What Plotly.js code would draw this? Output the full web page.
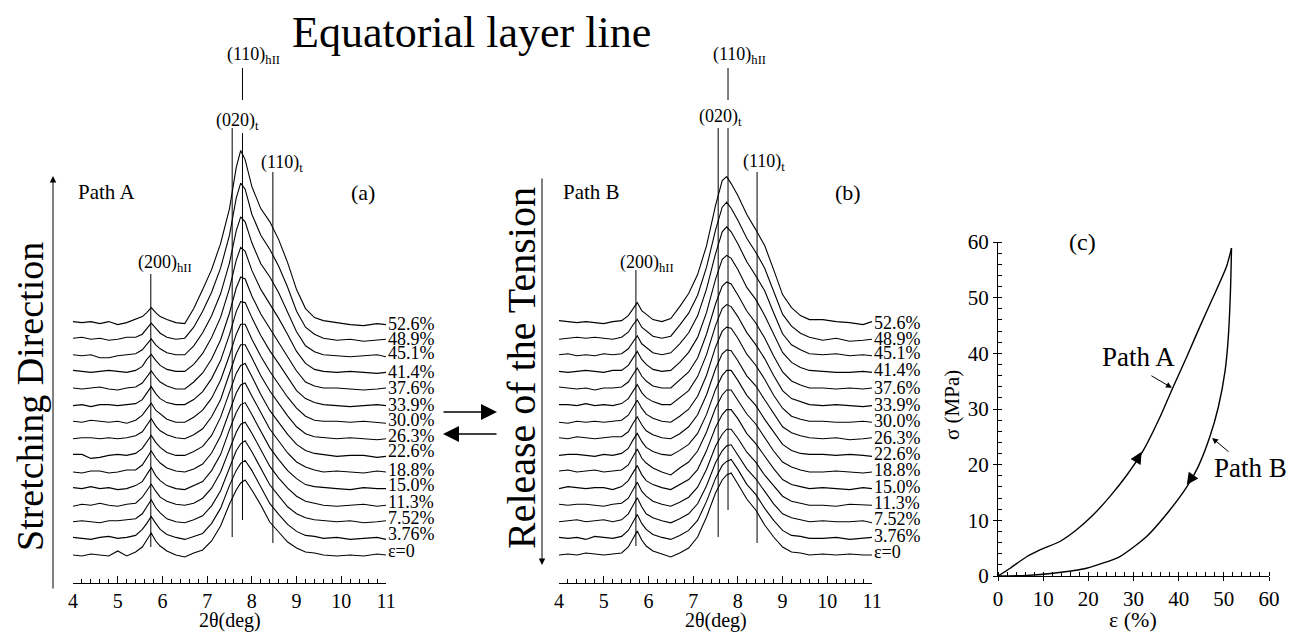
<!DOCTYPE html>
<html><head><meta charset="utf-8">
<script src="https://cdn.plot.ly/plotly-3.0.1.min.js"></script>
<style>body{margin:0;background:#fff}#chart{width:1291px;height:633px}</style>
</head><body><div id="chart"></div>
<script>
// ---------- DATA ----------
const twoTheta = [4.0,4.2,4.4,4.6,4.8,5.0,5.2,5.4,5.55,5.65,5.75,5.85,5.95,6.1,6.3,6.5,6.7,6.9,7.1,7.3,7.5,7.65,7.75,7.85,8.0,8.2,8.4,8.6,8.8,9.0,9.2,9.4,9.6,9.9,10.2,10.5,10.8,11.0];
const strainLabels = ['ε=0','3.76%','7.52%','11.3%','15.0%','18.8%','22.6%','26.3%','30.0%','33.9%','37.6%','41.4%','45.1%','48.9%','52.6%'];

// Path A (stretching) intensities, a.u., one array per strain
const pathA_0  = [0,-1,1,0,-1,4,-1, 3,8,15,22,14,9,4,0, -2,2,5,14,29,51,65,72,75,65,50,33,23,13,7,3,2,0, -1,0,-1,1,0];
const pathA_1  = [1,0,-1,1,2,0,1, 3,9,15,22,15,9,4,1, -1,2,5,15,30,53,68,75,78,68,51,35,24,14,7,3,2,0, 1,-1,0,1,-1];
const pathA_2  = [0,1,0,-1,1,1,2, 3,8,15,22,14,9,3,0, -1,2,6,16,31,55,71,78,81,70,53,37,26,15,8,4,2,1, 0,1,-1,0,1];
const pathA_3  = [-1,1,0,2,0,-1,1, 2,8,14,21,14,8,4,1, 0,2,7,17,33,57,73,81,83,72,55,39,27,17,9,4,2,0, -1,0,1,-1,0];
const pathA_4  = [1,0,2,0,1,-1,0, 3,7,14,21,13,8,3,0, -1,3,7,18,34,59,76,84,86,74,57,41,29,18,10,4,2,1, 0,-1,1,0,0];
const pathA_5  = [0,-1,1,1,-1,0,2, 2,7,14,21,14,9,4,1, 0,3,8,19,36,61,79,87,89,76,59,43,31,19,10,5,2,0, 1,0,-1,1,0];
const pathA_6  = [1,1,-3,-2,0,1,0, 2,7,14,20,13,8,3,0, 0,4,9,20,38,63,82,90,92,79,61,45,33,21,11,5,2,1, -1,0,0,-2,-1];
const pathA_7  = [0,1,1,0,1,0,1, 3,7,14,20,13,8,4,1, 0,4,10,22,39,65,85,94,94,81,63,48,35,23,12,5,2,1, 0,1,0,-1,0];
const pathA_8  = [1,0,2,1,0,1,-1, 2,7,13,19,12,8,3,0, 0,5,12,24,42,67,88,98,98,83,66,51,38,25,14,6,2,1, 1,0,1,0,-1];
const pathA_9  = [0,1,-1,1,1,0,1, 2,6,13,19,12,7,3,1, 1,6,14,27,45,71,94,104,103,88,70,55,42,29,15,7,3,1, 0,-1,0,1,0];
const pathA_10 = [1,0,1,2,0,-1,1, 2,6,12,18,12,7,3,0, 0,7,16,30,49,76,101,112,110,93,75,61,47,33,18,7,3,1, 1,0,-1,0,1];
const pathA_11 = [2,1,0,1,2,1,0, 2,6,13,18,12,7,3,1, 1,8,19,35,55,84,112,125,121,102,83,69,54,38,21,9,3,1, 0,1,0,-1,0];
const pathA_12 = [1,0,1,-2,-2,0,1, 2,6,12,17,11,7,3,1, 1,10,23,40,62,93,125,139,134,113,92,79,63,44,24,10,4,1, 0,-1,0,1,-1];
const pathA_13 = [1,2,0,1,-1,0,2, 2,5,11,16,11,6,2,0, 1,12,28,47,71,104,141,156,150,125,104,90,73,52,28,12,5,1, -1,0,-2,-1,0];
const pathA_14 = [1,0,1,-1,1,-2,0, 3,6,10,15,10,6,3,0, -1,14,33,53,79,114,155,172,163,136,114,101,83,60,33,14,5,2, 0,-2,-3,-1,-2];

// Path B (release) intensities
const pathB_0  = [0,1,0,2,1,0,1, 2,8,16,24,15,9,4,1, -2,2,7,18,38,62,75,80,82,71,56,45,30,18,8,3,2,0, 1,0,1,0,0];
const pathB_1  = [1,0,1,-1,2,1,0, 2,8,16,24,15,9,4,1, -1,3,8,18,37,60,73,77,79,69,54,44,30,18,8,3,2,0, 0,1,-1,0,1];
const pathB_2  = [0,1,2,0,1,2,0, 2,8,16,24,15,8,4,1, -1,3,8,18,36,59,71,76,77,67,53,43,30,18,8,4,2,0, 1,0,0,1,-1];
const pathB_3  = [1,0,1,1,0,-1,1, 2,7,15,23,14,9,4,1, -1,3,8,18,36,59,71,76,76,67,53,43,30,19,9,4,2,0, 0,-1,1,0,0];
const pathB_4  = [0,2,1,0,1,1,-1, 2,8,15,23,14,8,4,1, -1,4,9,19,38,61,74,79,79,70,55,45,32,20,9,4,2,0, 1,0,-1,1,0];
const pathB_5  = [1,2,0,1,2,0,1, 2,7,15,23,14,9,4,0, -3,4,10,21,40,64,77,82,82,72,58,48,34,21,10,5,2,0, 0,1,0,-1,0];
const pathB_6  = [0,1,1,0,-1,1,0, 2,7,15,22,14,8,4,1, 0,5,11,22,41,66,80,85,85,75,60,50,36,23,11,5,2,1, 1,0,1,0,-1];
const pathB_7  = [1,0,2,1,0,1,2, 2,7,15,22,14,8,4,1, 0,5,12,24,44,70,85,89,88,78,63,53,39,25,12,6,3,1, 0,1,-1,0,1];
const pathB_8  = [0,-1,1,0,1,0,1, 2,7,15,22,14,8,4,1, 0,6,13,26,47,75,91,95,94,84,68,57,43,27,14,6,3,1, 1,0,0,1,0];
const pathB_9  = [1,1,0,2,0,1,0, 2,7,14,21,13,8,4,1, 1,8,15,29,51,80,97,101,99,89,73,61,47,30,15,7,4,1, 0,1,0,-1,0];
const pathB_10 = [2,1,0,1,-1,1,1, 2,7,14,21,13,8,3,1, 1,9,17,31,55,85,103,107,105,94,78,66,51,33,17,8,4,1, 1,0,1,0,1];
const pathB_11 = [1,0,1,2,1,0,2, 2,7,14,21,13,8,3,1, 2,10,20,35,60,93,113,117,114,103,85,73,57,38,20,10,5,2, 1,0,0,1,0];
const pathB_12 = [1,2,0,1,0,2,1, 2,7,14,20,12,8,3,1, 3,12,23,40,67,102,124,129,124,112,94,80,65,43,22,11,6,2, 1,2,0,1,0];
const pathB_13 = [0,1,2,1,2,1,0, 2,7,14,20,12,8,3,1, 3,14,26,44,72,109,132,137,131,119,101,87,71,48,25,13,6,2, -1,1,-2,-1,0];
const pathB_14 = [2,1,0,1,0,-1,1, 2,7,14,20,12,8,3,1, 4,16,29,48,77,117,142,146,139,127,108,93,77,53,28,15,7,3, 3,1,0,-2,1];

// Reflections
const peakNames = ['(200)','(020)','(110)','(110)'];
const peakSubs  = ['hII','t','hII','t'];
const peakPosA  = [5.74, 7.56, 7.79, 8.47];
const peakPosB  = [5.72, 7.56, 7.78, 8.43];

// Stress-strain (c)
const strainPathA = [0,2.7,6.4,9.3,13.7,17.4,21.1,24.8,28.5,32.2,35.9,38.8,41.8,44.7,47.7,50.6,51.7];
const stressPathA = [0,1.4,3.5,4.7,6.2,8.3,11.0,14.3,18.1,22.6,28.6,34.0,39.4,44.8,50.2,55.6,58.9];
const strainPathB = [51.7,51.5,51.0,50.3,48.8,46.9,44.3,41.8,38.1,32.9,27.0,19.6,12.2,6.4,0];
const stressPathB = [58.9,52.0,43.0,37.0,30.4,25.0,19.6,16.0,11.9,7.1,3.5,1.4,0.5,0.1,0];

// ---------- BUILD ----------
const pathA = [pathA_0,pathA_1,pathA_2,pathA_3,pathA_4,pathA_5,pathA_6,pathA_7,pathA_8,pathA_9,pathA_10,pathA_11,pathA_12,pathA_13,pathA_14];
const pathB = [pathB_0,pathB_1,pathB_2,pathB_3,pathB_4,pathB_5,pathB_6,pathB_7,pathB_8,pathB_9,pathB_10,pathB_11,pathB_12,pathB_13,pathB_14];

const W = 1291, H = 633;
const PX = v => v / W, PY = v => (H - v) / H;
const STACK = 16.6;            // vertical offset between successive patterns
const FONT = 'Liberation Serif, Times New Roman, serif';
const BLACK = '#000';

const traces = [];
pathA.forEach((arr, i) => traces.push({
  type: 'scatter', mode: 'lines', x: twoTheta, y: arr.map(v => v + i * STACK),
  xaxis: 'x', yaxis: 'y', line: {color: BLACK, width: 1.1}, hoverinfo: 'skip', showlegend: false
}));
pathB.forEach((arr, i) => traces.push({
  type: 'scatter', mode: 'lines', x: twoTheta, y: arr.map(v => v + i * STACK),
  xaxis: 'x2', yaxis: 'y2', line: {color: BLACK, width: 1.1}, hoverinfo: 'skip', showlegend: false
}));
traces.push({type: 'scatter', mode: 'lines', x: strainPathA, y: stressPathA, xaxis: 'x3', yaxis: 'y3',
  line: {color: BLACK, width: 1.4, shape: 'spline', smoothing: 0.6}, hoverinfo: 'skip', showlegend: false});
traces.push({type: 'scatter', mode: 'lines', x: strainPathB, y: stressPathB, xaxis: 'x3', yaxis: 'y3',
  line: {color: BLACK, width: 1.4, shape: 'spline', smoothing: 0.6}, hoverinfo: 'skip', showlegend: false});

// pixel helpers for stacked panels: y value = 555 - pixel row
const yv = p => 555 - p;

const shapes = [];
const annotations = [];
function vline(xref, yref, x, p0, p1) {
  shapes.push({type: 'line', xref, yref, x0: x, x1: x, y0: yv(p0), y1: yv(p1), line: {color: BLACK, width: 1}});
}
// Panel (a) reference lines
vline('x','y', peakPosA[0], 274, 547);
vline('x','y', peakPosA[1], 128, 537);
vline('x','y', peakPosA[2], 68, 100);
vline('x','y', peakPosA[2], 133, 520);
vline('x','y', peakPosA[3], 172, 543);
// Panel (b)
vline('x2','y2', peakPosB[0], 270, 546);
vline('x2','y2', peakPosB[1], 128, 537);
vline('x2','y2', peakPosB[2], 68, 100);
vline('x2','y2', peakPosB[2], 128, 510);
vline('x2','y2', peakPosB[3], 172, 543);

function txt(text, x, y, size, opts = {}) {
  annotations.push(Object.assign({text, x: PX(x), y: PY(y), xref: 'paper', yref: 'paper', showarrow: false,
    xanchor: 'center', yanchor: 'middle', font: {family: FONT, size, color: BLACK}}, opts));
}
const peakLabel = i => peakNames[i] + '<sub>' + peakSubs[i] + '</sub>';
// peak labels (a)
txt(peakLabel(0), 165, 263, 18);
txt(peakLabel(1), 237, 121, 18);
txt(peakLabel(2), 253, 56, 18);
txt(peakLabel(3), 282, 164, 18);
// peak labels (b)
txt(peakLabel(0), 647, 263, 18);
txt(peakLabel(1), 720, 118, 18);
txt(peakLabel(2), 739, 56, 18);
txt(peakLabel(3), 764, 162, 18);

// strain labels
const labelRowsA = [551, 534, 518, 502, 485, 470, 451, 436, 420, 405, 388, 372, 353, 339, 324];
const labelRowsB = [552, 536, 519, 503, 487, 470, 454, 438, 421, 405, 388, 370, 353, 339, 323];
strainLabels.forEach((s, i) => {
  txt(s, 387, labelRowsA[i], 18, {xanchor: 'left', borderpad: 0});
  txt(s, 873, labelRowsB[i], 18, {xanchor: 'left', borderpad: 0});
});

// texts
txt('Equatorial layer line', 471, 32, 44);
txt('Path A', 106, 192, 21);
txt('(a)', 363, 192, 22);
txt('Path B', 591, 192, 21);
txt('(b)', 848, 192, 22);
txt('Stretching Direction', 30, 397, 38, {textangle: -90});
txt('Release of the Tension', 521, 368, 40, {textangle: -90});
txt('2θ(deg)', 230, 620, 20);
txt('2θ(deg)', 716, 620, 20);
txt('(c)', 1082, 242, 24);
txt('Path A', 1138, 357, 27);
txt('Path B', 1250, 468, 27);
txt('σ (MPa)', 952, 405, 21, {textangle: -90});
txt('ε (%)', 1133, 619, 22, {borderpad: 0});

function arrow(hx, hy, tx, ty, size, width, opts = {}) {
  annotations.push(Object.assign({text: '', x: PX(hx), y: PY(hy), xref: 'paper', yref: 'paper',
    ax: tx - hx, ay: ty - hy, axref: 'pixel', ayref: 'pixel', showarrow: true,
    arrowhead: 2, arrowsize: size, arrowwidth: width, arrowcolor: BLACK, standoff: 0, startstandoff: 0}, opts));
}
// direction arrows
arrow(53, 176, 53, 590, 1.3, 1);
arrow(542, 565, 542, 177, 1.3, 1);
arrow(497, 412, 442, 412, 2.0, 1.6);
arrow(443, 434, 498, 434, 2.0, 1.6);
// (c) pointer arrows
function arrowData(ex, sy, dx, dy, size, width) {
  annotations.push({text: '', x: ex, y: sy, xref: 'x3', yref: 'y3', ax: dx, ay: dy, axref: 'pixel', ayref: 'pixel',
    showarrow: true, arrowhead: 2, arrowsize: size, arrowwidth: width, arrowcolor: BLACK, standoff: 0});
}
arrowData(38.5, 33.8, -22, -13, 1.2, 1);
arrowData(47.4, 24.8, 18, 15, 1.2, 1);
arrowData(31.8, 22.3, -6, 10, 1.8, 1.3);
arrowData(41.8, 16.4, 7, -10, 1.8, 1.3);

const stackedX = dom => ({
  domain: dom, range: [4, 11], showline: true, linecolor: BLACK, linewidth: 1,
  ticks: 'inside', ticklen: 7, tickwidth: 1, tickcolor: BLACK, dtick: 1, tick0: 0,
  minor: {dtick: 0.2, ticks: 'inside', ticklen: 4, tickwidth: 1, tickcolor: BLACK, showgrid: false},
  tickfont: {family: FONT, size: 20, color: BLACK}, showgrid: false, zeroline: false, fixedrange: true
});
const stackedY = {domain: [50 / H, 593 / H], range: [-28, 515], visible: false, fixedrange: true};
const stressAxis = dom => ({
  domain: dom, range: [0, 60], showline: true, linecolor: BLACK, linewidth: 1,
  ticks: 'outside', ticklen: 4, tickcolor: BLACK, dtick: 10,
  minor: {dtick: 2, ticks: 'inside', ticklen: 4, tickcolor: BLACK, showgrid: false},
  tickfont: {family: FONT, size: 21, color: BLACK}, showgrid: false, zeroline: false, fixedrange: true
});

const layout = {
  width: W, height: H, margin: {l: 0, r: 0, t: 0, b: 0},
  paper_bgcolor: '#fff', plot_bgcolor: 'rgba(0,0,0,0)', showlegend: false,
  xaxis: Object.assign(stackedX([73 / W, 386 / W]), {anchor: 'y'}),
  yaxis: Object.assign({}, stackedY, {anchor: 'x'}),
  xaxis2: Object.assign(stackedX([559 / W, 872 / W]), {anchor: 'y2'}),
  yaxis2: Object.assign({}, stackedY, {anchor: 'x2'}),
  xaxis3: Object.assign(stressAxis([998 / W, 1269 / W]), {anchor: 'y3'}),
  yaxis3: Object.assign(stressAxis([57 / H, 391 / H]), {anchor: 'x3'}),
  shapes, annotations
};
Plotly.newPlot('chart', traces, layout, {displayModeBar: false, staticPlot: true});
</script>
</body></html>
